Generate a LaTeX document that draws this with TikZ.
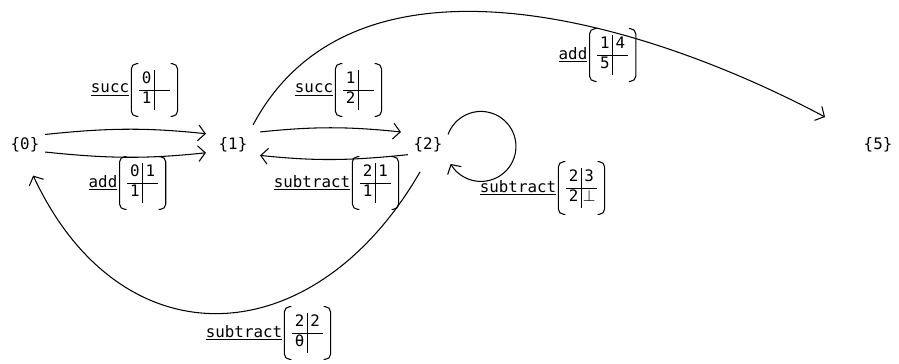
\documentclass[tikz,border=0pt]{standalone}
\usepackage{fontspec}
\setmonofont{DejaVu Sans Mono}
\usetikzlibrary{positioning,arrows.meta}
\newcommand{\opname}[1]{\underline{#1}}
\newcommand{\cell}[1]{\makebox[0.65em]{#1}}
\newcommand{\grid}[4]{%
	\setlength{\tabcolsep}{1.5pt}%
	\begin{tabular}{c|c}
	\cell{#1} & \cell{#2} \\ \hline
	\cell{#3} & \cell{#4}
	\end{tabular}}
\tikzset{
	tbl/.style={inner xsep=4pt, inner ysep=3.5pt},
	opn/.style={inner sep=1pt},
	state/.style={inner sep=3pt},
}

\begin{document}
\begin{tikzpicture}[x=0.02cm,y=0.02cm,>={Straight Barb[length=4pt,width=9pt]},
		font=\ttfamily\fontsize{9}{11}\selectfont,line width=0.6pt]
		\useasboundingbox (0,0) rectangle (899,363);

		\node[state] (s0) at (25,218) {\{0\}};
		\node[state] (s1) at (233,218) {\{1\}};
		\node[state] (s2) at (428,218) {\{2\}};
		\node[state] (s5) at (878,218) {\{5\}};
		\coordinate (e5) at (825,246);

		% labels
		\node[opn] (succA) at (110,273) {\opname{succ}};
		\node[tbl, right=0pt of succA] (succAg) {\grid{0}{}{1}{}};
		\node[opn] (addA) at (103,180) {\opname{add}};
		\node[tbl, right=0pt of addA] (addAg) {\grid{0}{1}{1}{}};
		\node[opn] (succB) at (314,273) {\opname{succ}};
		\node[tbl, right=0pt of succB] (succBg) {\grid{1}{}{2}{}};
		\node[opn] (subA) at (312,180) {\opname{subtract}};
		\node[tbl, right=0pt of subA] (subAg) {\grid{2}{1}{1}{}};
		\node[opn] (subB) at (518,175) {\opname{subtract}};
		\node[tbl, right=0pt of subB] (subBg) {\grid{2}{3}{2}{$\bot$}};
		\node[opn] (subC) at (244,30) {\opname{subtract}};
		\node[tbl, right=0pt of subC] (subCg) {\grid{2}{2}{θ}{}};
		\node[opn] (addB) at (573,308) {\opname{add}};
		\node[tbl, right=0pt of addB] (addBg) {\grid{1}{4}{5}{}};

		\foreach \g in {succAg,addAg,succBg,subAg,subBg,subCg,addBg}
		{
			\draw[rounded corners=3pt]
				([xshift=4pt]\g.north west) -- (\g.north west) -- (\g.south west) -- ([xshift=4pt]\g.south west)
				([xshift=-4pt]\g.north east) -- (\g.north east) -- (\g.south east) -- ([xshift=-4pt]\g.south east);
		}

		\path[->,shorten >=4pt]
			([yshift=6pt]s0.east) edge[bend left=6] ([yshift=6pt]s1.west)
			([yshift=-4pt]s0.east) edge[bend right=6] ([yshift=-4pt]s1.west)
			([yshift=7pt]s1.east) edge[bend left=6,shorten <=4pt] ([yshift=7pt]s2.west)
			([yshift=-5.5pt]s2.west) edge[bend left=6] ([yshift=-5.5pt]s1.east)
		;
		\draw[->] ([yshift=4pt]s1.north east) to[out=62,in=152,looseness=0.95] (e5);
		\draw[->] ([yshift=6pt]s2.east) arc[start angle=160,end angle=-150,radius=0.7cm];
		\draw[->,shorten <=9pt,shorten >=11pt] (s2.south) to[out=-120,in=-65,looseness=1.45] (s0.south);
\end{tikzpicture}
\end{document}
